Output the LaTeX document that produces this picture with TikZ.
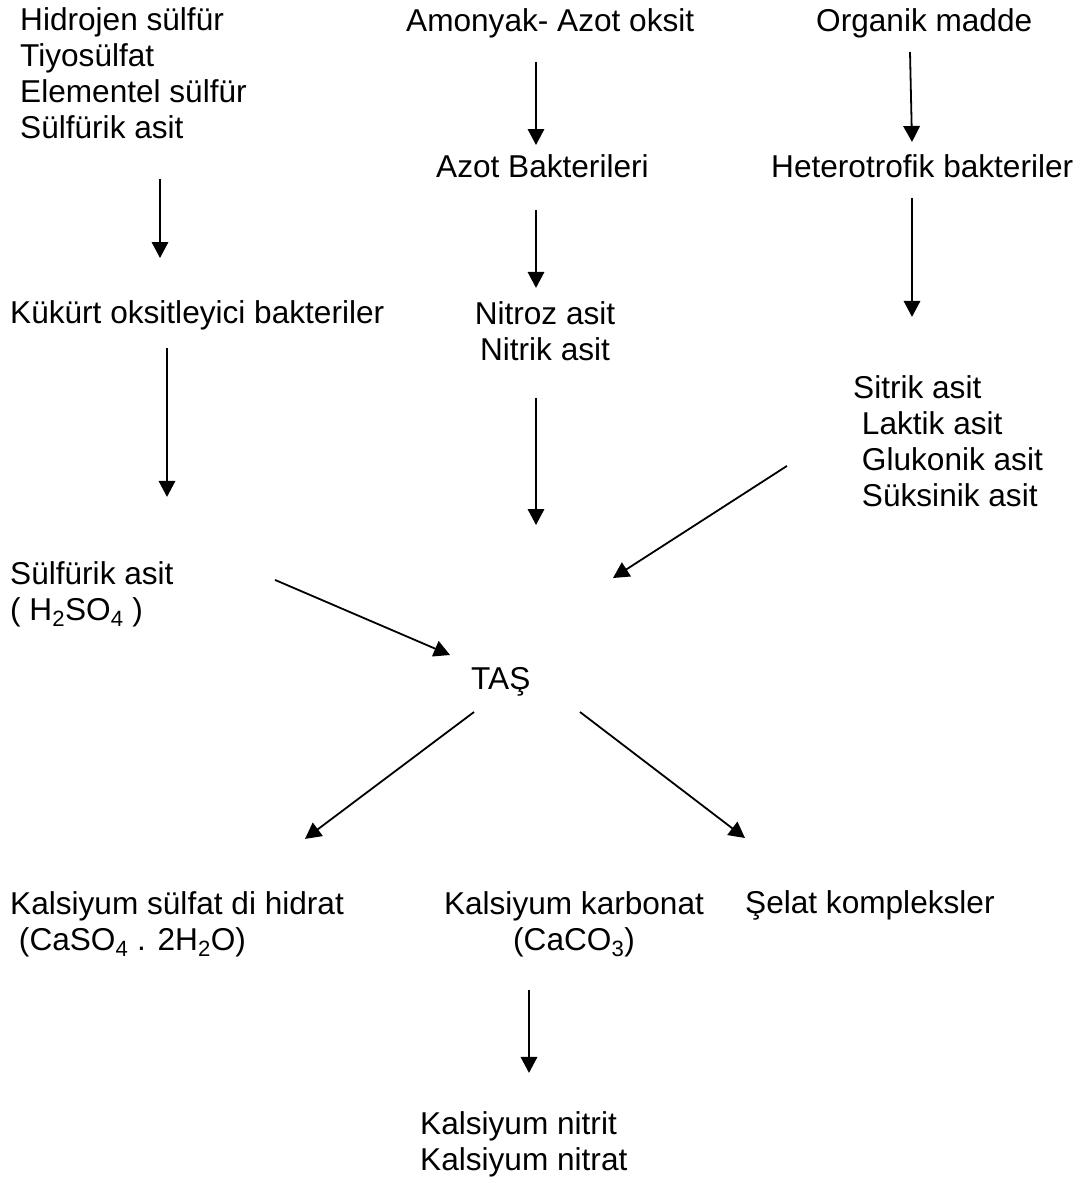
\documentclass[tikz,border=0pt]{standalone}
\usepackage{fontspec}
\setmainfont{Liberation Sans}
\usetikzlibrary{arrows.meta}

\begin{document}
\begin{tikzpicture}[x=1pt, y=-1pt,
  font=\fontsize{31.6}{36}\selectfont,
  txt/.style={inner sep=0pt, anchor=base west, align=left},
  mid/.style={inner sep=0pt, anchor=base, align=center},
  arr/.style={-{Triangle[length=16pt, width=16.5pt]}, line width=1.8pt}]
\useasboundingbox (0,0) rectangle (1081,1183);

% --- sulfur branch (multi-line nodes sit on their last baseline)
\node[txt] (sulfur) at (20,138) {Hidrojen sülfür\\Tiyosülfat\\Elementel sülfür\\Sülfürik asit};
\node[txt] (kob) at (10,323) {Kükürt oksitleyici bakteriler};
\node[txt] (h2so4) at (10,620) {Sülfürik asit\\( H\textsubscript{2}SO\textsubscript{4} )};

% --- nitrogen branch
\node[txt] (amonyak) at (406,31) {Amonyak- Azot oksit};
\node[txt] (azotbak) at (436,177) {Azot Bakterileri};
\node[mid] (nitroz) at (545,360) {Nitroz asit\\Nitrik asit};

% --- organic branch
\node[txt] (organik) at (816,31) {Organik madde};
\node[txt] (hetero) at (771,177) {Heterotrofik bakteriler};
\node[txt] (asitler) at (853,506) {Sitrik asit\\~Laktik asit\\~Glukonik asit\\~Süksinik asit};

% --- stone and products
\node[txt] (tas) at (471,689) {TAŞ};
\node[txt] (kalsulf) at (10,950) {Kalsiyum sülfat di hidrat\\~(CaSO\textsubscript{4} . 2H\textsubscript{2}O)};
\node[mid] (kalkarb) at (574,950) {Kalsiyum karbonat\\(CaCO\textsubscript{3})};
\node[txt] (selat) at (745,913) {Şelat kompleksler};
\node[txt] (kalnit) at (420,1170) {Kalsiyum nitrit\\Kalsiyum nitrat};

\draw[arr] ([xshift=140pt, yshift=-40pt]sulfur.south west) -- ([xshift=150pt, yshift=65pt]kob.base west);
\draw[arr] ([xshift=157pt, yshift=-25pt]kob.base west) -- ([xshift=157pt, yshift=64pt]h2so4.north west);
\draw[arr] ([xshift=265pt, yshift=-19pt]h2so4.north west) -- ([xshift=-21pt, yshift=34pt]tas.base west);

\draw[arr] ([xshift=130pt, yshift=-31pt]amonyak.base west) -- ([xshift=100pt, yshift=32pt]azotbak.base west);
\draw[arr] ([xshift=100pt, yshift=-33pt]azotbak.base west) -- ([xshift=-9pt, yshift=13pt]nitroz.north);
\draw[arr] ([xshift=-9pt, yshift=-37pt]nitroz.south) -- ([xshift=65pt, yshift=164pt]tas.base west);

\draw[arr] ([xshift=94pt, yshift=-21pt]organik.base west) -- ([xshift=141pt, yshift=35pt]hetero.base west);
\draw[arr] ([xshift=141pt, yshift=-21pt]hetero.base west) -- ([xshift=59pt, yshift=58pt]asitler.north west);
\draw[arr] ([xshift=-66pt, yshift=-91pt]asitler.north west) -- ([xshift=142pt, yshift=111pt]tas.base west);

\draw[arr] ([xshift=3pt, yshift=-23pt]tas.base west) -- ([xshift=295pt, yshift=52pt]kalsulf.north west);
\draw[arr] ([xshift=109pt, yshift=-23pt]tas.base west) -- ([yshift=75pt]selat.base west);
\draw[arr] ([xshift=-45pt, yshift=-33pt]kalkarb.south) -- ([xshift=109pt, yshift=38pt]kalnit.north west);
\end{tikzpicture}
\end{document}
